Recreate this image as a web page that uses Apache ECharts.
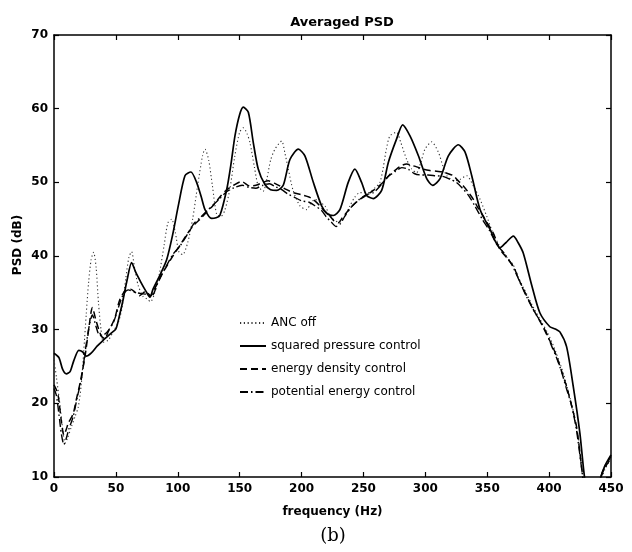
<!DOCTYPE html>
<html>
<head>
<meta charset="utf-8">
<script src="https://cdn.jsdelivr.net/npm/echarts@6/dist/echarts.min.js"></script>
<style>
html,body{margin:0;padding:0;background:#fff;}
#chart{width:632px;height:552px;}
</style>
</head>
<body>
<div id="chart"></div>
<script>
// ---- data: [frequency (Hz), PSD (dB)] ----
const seriesNames = ['ANC off', 'squared pressure control', 'energy density control', 'potential energy control'];
const xTicks = { min: 0, max: 450, step: 50 };
const yTicks = { min: 10, max: 70, step: 10 };

const ancOff = [[0,25.9],[2,23.5],[5,19.5],[7,16.5],[9,14.6],[11,15.3],[14,16.8],[17,18.2],[19.6,19.5],[22,22.5],[24,27],[26,32],[28,36.5],[30,39.5],[32,40.5],[34,38.5],[36,33.5],[38,30],[40,28.3],[44,28.6],[48,29.8],[52,31],[55,33],[58,37],[60.5,39.8],[62.7,40.6],[65,38.5],[68,36],[72,34.5],[75,34.2],[78,33.8],[81,34.8],[85,37.5],[89,41.5],[92,44.5],[95,45],[98,43.2],[101,40.5],[104,40.2],[108,41.8],[112,45],[116,49.5],[120,53.6],[122,54.5],[125,53],[128,49.5],[131.5,45.6],[135,45.4],[138,46.2],[142,49],[146,53.5],[150,56.8],[153,57.4],[156,56.6],[158.3,55.4],[162,52],[165,49.5],[169,48.8],[172,50.5],[175,53],[178.5,54.5],[183.9,55.6],[186.5,54],[189.3,51.8],[193,49],[198.7,46.8],[204.1,46.3],[207,47.0],[210.8,47.7],[214,47.4],[218.9,46.8],[222,45.8],[225.6,45.0],[231,44.5],[235,45.4],[239.1,46.8],[243,48],[247.2,48.6],[253.9,48.6],[259,49.2],[263.3,50.0],[266,52],[268.5,54.5],[271.4,56.3],[276.8,56.8],[280,55.5],[284.9,53.1],[289,51.8],[293,51.3],[296,52.5],[299.7,54.5],[305.1,55.5],[310.5,54.1],[314,52.3],[317.2,50.9],[324,50.2],[328,50.4],[333.4,50.9],[338.8,49.5],[344.2,47.7],[349.6,45.4],[354,43.4],[360,41.3],[366,39.8],[371,38.8],[376,36.8],[382,34.8],[388,32.8],[394,31.0],[399,29.5],[404,27.6],[408,25.8],[412,23.8],[416,21.3],[420,18.6],[424,14.8],[427,10.5],[429,8],[434,5],[441,9],[445,11],[450,12.5]];

const squaredPressure = [[0,26.8],[4,26.2],[7,24.6],[10,24.0],[13,24.3],[16,25.8],[20,27.2],[23,27.0],[26,26.4],[30,26.8],[35,27.8],[40,28.6],[46,29.5],[50,30.1],[53,32],[56,34.2],[59,36.7],[62.7,39.1],[66,37.8],[70,36.5],[74,35.3],[77.5,34.4],[80,35.5],[85,37.2],[91,39.5],[96,43],[100.4,46.8],[105.8,50.9],[110.6,51.4],[115.2,50.0],[119,48.0],[122,46.3],[127.3,45.1],[131,45.2],[134,45.5],[139.5,49.0],[143,52.5],[146.2,56.3],[150,59.2],[152.9,60.2],[157,59.5],[161,55.4],[165,51.8],[170.4,49.7],[175,49.0],[179.9,48.9],[185.2,49.6],[190.6,53.1],[197.4,54.5],[202.7,53.6],[209.5,50.0],[216.2,46.8],[221,45.7],[225.6,45.5],[231,46.3],[237.7,50.0],[243.1,51.8],[248.5,50.0],[252.6,48.2],[258,47.8],[264.7,48.9],[270.1,52.7],[276.8,55.9],[281.7,57.8],[287.6,56.3],[294.4,53.6],[301.1,50.5],[305.9,49.6],[311.9,50.5],[318.6,53.6],[326.7,55.1],[332.1,54.1],[337.5,50.9],[344.2,46.3],[352.3,43.6],[360.2,41.1],[365,41.8],[371.1,42.7],[375,41.8],[379.1,40.4],[386,36],[392.5,32.3],[400.6,30.4],[405,30.1],[408.7,29.7],[414.1,27.7],[419.5,22.3],[424.9,15.9],[429,9.5],[435,5],[441,9.5],[445,11.5],[450,13]];

const energyDensity = [[0,22.5],[2,21.8],[3.5,20.9],[6,17.5],[8,15.7],[10,16.5],[11.5,17.3],[15.5,18.6],[18,20.5],[21,22.7],[25,26.3],[28,30.0],[31,33.0],[34,31.2],[38,29.2],[41,28.8],[44,29.8],[49,31.5],[53,34.0],[58,35.4],[62,35.5],[66,35.0],[69,34.6],[74,35.2],[78,34.6],[82,35.8],[87,37.5],[91,38.6],[96.4,40.1],[102,41.5],[107.2,42.9],[113,44.2],[118,45.0],[123,45.9],[128.7,46.9],[134,48.0],[139.5,49.0],[145,49.6],[151.6,50.1],[158.3,49.5],[163.2,49.6],[169,50.0],[173.1,50.2],[178,49.9],[182.6,49.5],[188,49.0],[193.3,48.6],[200,48.3],[206,48.0],[210,47.6],[214.9,46.8],[219,46.0],[223,45.4],[226,44.8],[229.7,44.5],[233,45.2],[236.4,45.9],[241,46.8],[247.2,47.7],[252,48.2],[258,48.9],[266,50.0],[271,51.0],[276.8,51.8],[281,52.3],[284.9,52.5],[289,52.3],[293,52.1],[298,51.8],[303.7,51.6],[309,51.5],[314.5,51.4],[318,51.2],[322.6,50.9],[326,50.3],[330.7,49.5],[335,48.6],[338.8,47.7],[342,46.7],[346.8,45.4],[350,44.5],[354.9,43.1],[360,41.0],[366,39.7],[371.1,38.6],[376.4,36.5],[381.8,34.6],[387,32.8],[392.5,31.2],[397.9,29.4],[402,28],[406,26.4],[410,24.4],[414.1,22.3],[418,19.8],[422.2,16.8],[426.2,11.4],[428,9],[434,5],[440,9],[444,11],[450,12.5]];

const potentialEnergy = [[0,22.0],[2,21.0],[4,18.5],[6,15.8],[8,14.4],[10,15.3],[12,16.5],[15.5,18.2],[19,21],[22,23.2],[26,28.0],[29,31.0],[31,32.0],[34,30.4],[37,29.2],[42,29.5],[48,31.0],[52,33.0],[56,34.8],[60,35.4],[65,35.1],[70,34.9],[75,34.8],[79,34.6],[84,36.4],[90,38.4],[96,40.2],[102,41.4],[108,43.0],[113,44.4],[118,45.2],[124,46.2],[129,47.0],[134,47.8],[140,48.8],[146,49.3],[152,49.6],[158,49.3],[163,49.2],[169,49.6],[174,49.8],[179,49.4],[184,49.0],[189,48.4],[194,48.0],[200,47.5],[206,47.3],[211,46.8],[216,46.2],[220,45.3],[224,44.6],[228,44.0],[231,44.3],[235,45.4],[240,46.6],[246,47.6],[252,48.3],[258,48.6],[264,49.6],[270,50.8],[276,51.5],[281,52.0],[286,51.8],[291,51.2],[296,51.0],[302,51.0],[308,50.9],[314,50.8],[320,50.4],[325,50.0],[330,49.2],[335,48.2],[340,46.8],[346,45.0],[352,43.4],[358,41.5],[364,40.3],[370,38.8],[376,36.6],[382,34.4],[388,32.5],[394,30.8],[398,29.5],[402,27.8],[406,26.2],[410,24.3],[414,22.0],[418,19.8],[422,16.5],[426,11.5],[428,9],[434,5],[440,9],[444,11],[450,12.8]];

const FONT = '"DejaVu Sans", "Liberation Sans", Arial, sans-serif';
const chart = echarts.init(document.getElementById('chart'), null, { renderer: 'canvas' });

function axisBase(extra) {
  return Object.assign({
    type: 'value',
    axisLine: { show: true, onZero: false, lineStyle: { color: '#000', width: 1.5 } },
    axisTick: { show: true, inside: true, length: 5, lineStyle: { color: '#000', width: 1.2 } },
    splitLine: { show: false },
    axisLabel: { color: '#000', fontFamily: FONT, fontWeight: 'bold', fontSize: 12, margin: 6 }
  }, extra);
}

const lineSeries = (name, data, width, type, color) => ({
  name, type: 'line', data, xAxisIndex: 0, yAxisIndex: 0,
  showSymbol: false, symbol: 'none', smooth: 0.25, clip: true,
  lineStyle: { color, width, type },
  itemStyle: { color },
  emphasis: { disabled: true }, animation: false
});

chart.setOption({
  animation: false,
  backgroundColor: '#fff',
  title: {
    text: 'Averaged PSD', left: 337, top: 11, textAlign: 'center',
    textStyle: { fontFamily: FONT, fontWeight: 'bold', fontSize: 13, color: '#000' }
  },
  grid: { left: 54, right: 21, top: 35, bottom: 75, containLabel: false },
  legend: {
    orient: 'vertical', left: 234, top: 312, itemWidth: 26, itemHeight: 14, itemGap: 11,
    itemStyle: { opacity: 0 },
    textStyle: { fontFamily: FONT, fontSize: 12, color: '#000' },
    data: seriesNames
  },
  xAxis: [
    axisBase({ min: xTicks.min, max: xTicks.max, interval: xTicks.step, position: 'bottom',
      name: 'frequency (Hz)', nameLocation: 'middle', nameGap: 29,
      nameTextStyle: { fontFamily: FONT, fontWeight: 'bold', fontSize: 12, color: '#000' } }),
    axisBase({ min: xTicks.min, max: xTicks.max, interval: xTicks.step, position: 'top',
      axisLabel: { show: false } })
  ],
  yAxis: [
    axisBase({ min: yTicks.min, max: yTicks.max, interval: yTicks.step, position: 'left' }),
    axisBase({ min: yTicks.min, max: yTicks.max, interval: yTicks.step, position: 'right',
      axisLabel: { show: false } })
  ],
  graphic: [
    {
      type: 'text', x: 18, y: 245, rotation: Math.PI / 2,
      style: { text: 'PSD (dB)', font: 'bold 12px "DejaVu Sans", sans-serif', fill: '#000',
        textAlign: 'center', textVerticalAlign: 'middle' }
    },
    {
      type: 'text', x: 333, y: 536,
      style: { text: '(b)', font: '18px "DejaVu Serif", "Liberation Serif", serif', fill: '#000',
        textAlign: 'center', textVerticalAlign: 'middle' }
    }
  ],
  series: [
    lineSeries(seriesNames[0], ancOff, 1.1, [1.2, 2.6], '#333'),
    lineSeries(seriesNames[1], squaredPressure, 1.7, 'solid', '#000'),
    lineSeries(seriesNames[2], energyDensity, 1.5, [7, 4], '#000'),
    lineSeries(seriesNames[3], potentialEnergy, 1.4, [8, 3, 1.5, 3], '#000')
  ]
});
</script>
</body>
</html>
